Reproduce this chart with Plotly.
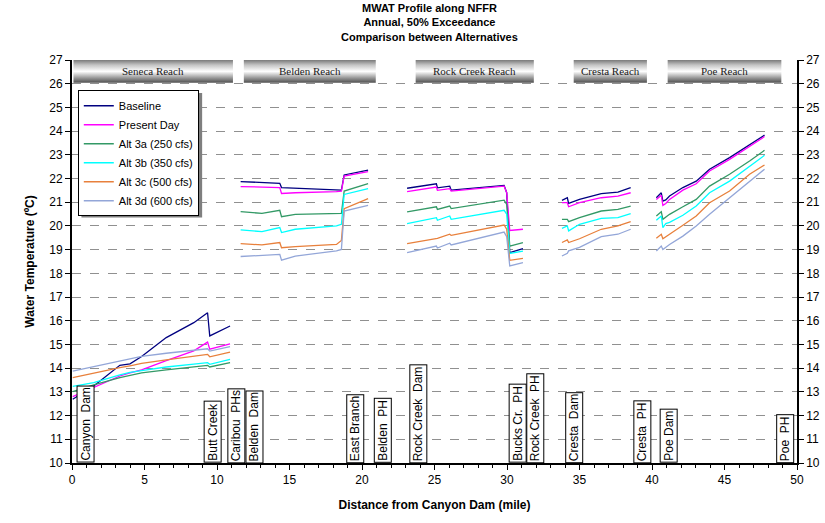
import plotly.graph_objects as go

# ---- River reaches shown as a banner along the top of the chart ----
reach_names = ["Seneca Reach", "Belden Reach", "Rock Creek Reach", "Cresta Reach", "Poe Reach"]
reach_start = [0.1, 11.85, 23.7, 34.6, 41.08]
reach_end = [11.1, 20.95, 31.85, 39.65, 48.92]

# ---- Landmarks along the river (mile from Canyon Dam) ----
landmark_names = ["Canyon\u00a0 Dam", "Butt Creek", "Caribou\u00a0 PHs", "Belden\u00a0 Dam",
                  "East Branch", "Belden\u00a0 PH", "Rock Creek\u00a0 Dam", "Bucks Cr.\u00a0 PH",
                  "Rock Creek\u00a0 PH", "Cresta\u00a0 Dam", "Cresta\u00a0 PH", "Poe Dam", "Poe\u00a0 PH"]
landmark_miles = [0.9, 9.7, 11.3, 12.55, 19.5, 21.4, 23.85, 30.7, 31.95, 34.6, 39.3, 41.15, 49.15]

# ---- River mile sample points in each reach ----
seneca_x = [0.05, 1.5, 3.3, 4.0, 4.8, 6.5, 8.4, 9.35, 9.5, 10.9]
belden_x = [11.63, 13.1, 14.33, 14.45, 15.4, 18.24, 18.58, 18.77, 20.42]
rock_x = [23.11, 25.13, 25.2, 26.05, 26.15, 29.8, 29.98, 30.19, 31.1]
cresta_x = [33.79, 34.16, 34.25, 35.0, 36.5, 37.65, 38.53]
poe_x = [40.3, 40.64, 40.75, 40.95, 41.21, 42.13, 43.05, 43.97, 45.35, 46.73, 47.76]

# ---- MWAT (deg C) for each alternative, one list per reach ----
baseline = [
    [12.69, 13.25, 14.12, 14.18, 14.49, 15.29, 15.92, 16.34, 15.36, 15.78],
    [21.87, 21.84, 21.8, 21.62, 21.6, 21.53, 21.51, 22.15, 22.35],
    [21.59, 21.78, 21.61, 21.68, 21.51, 21.71, 21.4, 18.87, 19.04],
    [21.08, 21.19, 20.95, 21.12, 21.36, 21.43, 21.62],
    [21.19, 21.4, 21.05, 21.1, 21.26, 21.62, 21.89, 22.39, 22.88, 23.44, 23.83],
]
present_day = [
    [12.8, 13.2, 13.67, 13.8, 13.93, 14.32, 14.73, 15.1, 14.8, 15.03],
    [21.66, 21.64, 21.62, 21.37, 21.4, 21.45, 21.47, 22.1, 22.29],
    [21.45, 21.64, 21.5, 21.57, 21.47, 21.68, 21.4, 19.81, 19.86],
    [20.98, 20.98, 20.81, 20.98, 21.19, 21.26, 21.4],
    [21.12, 21.29, 20.87, 20.95, 21.12, 21.51, 21.78, 22.32, 22.81, 23.34, 23.77],
]
alt_3a = [
    [13.01, 13.3, 13.6, 13.7, 13.8, 13.93, 14.05, 14.12, 14.05, 14.23],
    [20.6, 20.53, 20.66, 20.39, 20.49, 20.52, 20.53, 21.47, 21.78],
    [20.59, 20.81, 20.7, 20.84, 20.73, 21.09, 20.91, 19.15, 19.3],
    [20.28, 20.28, 20.18, 20.35, 20.63, 20.7, 20.84],
    [20.42, 20.6, 20.28, 20.38, 20.49, 20.81, 21.12, 21.68, 22.18, 22.74, 23.19],
]
alt_3b = [
    [13.23, 13.39, 13.72, 13.82, 13.9, 14.05, 14.17, 14.23, 14.16, 14.37],
    [19.83, 19.76, 19.93, 19.72, 19.86, 20.0, 20.07, 21.33, 21.57],
    [20.1, 20.35, 20.24, 20.42, 20.28, 20.66, 20.5, 18.84, 18.94],
    [19.9, 20.0, 19.79, 20.07, 20.32, 20.35, 20.52],
    [20.24, 20.42, 19.93, 20.1, 20.15, 20.45, 20.84, 21.4, 21.89, 22.53, 22.98],
]
alt_3c = [
    [13.6, 13.8, 14.02, 14.1, 14.2, 14.35, 14.5, 14.58, 14.48, 14.68],
    [19.25, 19.2, 19.3, 19.08, 19.13, 19.22, 19.39, 20.73, 21.15],
    [19.25, 19.5, 19.48, 19.65, 19.6, 20.04, 19.86, 18.55, 18.63],
    [19.3, 19.41, 19.3, 19.46, 19.86, 20.0, 20.18],
    [19.48, 19.65, 19.46, 19.55, 19.65, 20.03, 20.42, 20.98, 21.47, 22.18, 22.57],
]
alt_3d = [
    [13.88, 14.07, 14.33, 14.42, 14.5, 14.63, 14.76, 14.82, 14.72, 14.91],
    [18.71, 18.76, 18.8, 18.56, 18.73, 18.95, 19.01, 20.63, 20.87],
    [18.87, 19.15, 19.07, 19.27, 19.2, 19.74, 19.55, 18.31, 18.45],
    [18.73, 18.85, 18.95, 19.1, 19.55, 19.65, 19.86],
    [18.94, 19.15, 19.01, 19.1, 19.22, 19.57, 20.0, 20.49, 21.19, 21.89, 22.39],
]

series_names = ["Baseline", "Present Day", "Alt 3a (250 cfs)", "Alt 3b (350 cfs)",
                "Alt 3c (500 cfs)", "Alt 3d (600 cfs)"]
series_values = [baseline, present_day, alt_3a, alt_3b, alt_3c, alt_3d]
series_colors = ["#000080", "#FF00FF", "#339966", "#00FFFF", "#E8803C", "#93A6D8"]

reach_x = [seneca_x, belden_x, rock_x, cresta_x, poe_x]


def join_reaches(parts):
    """Concatenate per-reach lists with None breaks between reaches."""
    out = []
    for i, p in enumerate(parts):
        if i:
            out.append(None)
        out.extend(p)
    return out


FONT = "Liberation Sans, Arial, sans-serif"
fig = go.Figure()

xs = join_reaches(reach_x)
for name, vals, color in zip(series_names, series_values, series_colors):
    fig.add_trace(go.Scatter(
        x=xs, y=join_reaches(vals), mode="lines", name=name,
        line=dict(color=color, width=1.3), connectgaps=False,
    ))

# Reach banner: gradient-filled blocks spanning 26-27 deg C
band_lo, band_hi = 26.04, 27.0
for name, s, e in zip(reach_names, reach_start, reach_end):
    fig.add_trace(go.Scatter(
        x=[s, e, e, s, s], y=[band_lo, band_lo, band_hi, band_hi, band_lo],
        mode="lines", fill="toself", line=dict(width=0, color="rgba(0,0,0,0)"),
        fillgradient=dict(type="vertical", colorscale=[
            [0.0, "#505050"], [0.18, "#8c8c8c"], [0.5, "#ffffff"],
            [0.78, "#c4c4c4"], [1.0, "#7a7a7a"]]),
        showlegend=False, hoverinfo="skip",
    ))
    fig.add_annotation(x=(s + e) / 2, y=(band_lo + band_hi) / 2, text=name,
                       showarrow=False, xref="x", yref="y",
                       font=dict(family="Liberation Serif, Times New Roman, serif",
                                 size=11, color="#1a1a1a"))

# Landmark labels as boxed vertical text standing on the x axis
for name, m in zip(landmark_names, landmark_miles):
    fig.add_annotation(x=m, y=10, xref="x", yref="y", text=name, textangle=-90,
                       showarrow=False, yanchor="bottom", xanchor="center",
                       bgcolor="white", bordercolor="black", borderwidth=1, borderpad=1,
                       font=dict(family=FONT, size=12, color="black"))

# Three-line chart title
fig.add_annotation(
    text="<b>MWAT Profile along NFFR<br>Annual, 50% Exceedance<br>Comparison between Alternatives</b>",
    xref="paper", yref="paper", x=0.493, y=1.15, xanchor="center", yanchor="top",
    showarrow=False, font=dict(family=FONT, size=11, color="black"))

# Invisible trace to bring up the mirrored right-hand temperature axis
fig.add_trace(go.Scatter(x=[None], y=[None], yaxis="y2", showlegend=False, hoverinfo="skip"))

# Drop shadow offset to the lower right of the legend box
fig.add_shape(type="rect", xref="paper", yref="paper", x0=0.013, x1=0.1795, y0=0.609, y1=0.918,
              fillcolor="#7f7f7f", line=dict(width=0), layer="above")

axis_common = dict(range=[10, 27], dtick=1, tick0=10, ticks="outside", ticklen=5,
                   tickcolor="black", showline=True, linecolor="black", automargin=False,
                   tickfont=dict(family=FONT, size=12, color="black"))

fig.update_layout(
    width=825, height=523,
    margin=dict(l=72, r=28, t=60, b=60, autoexpand=False),
    paper_bgcolor="white", plot_bgcolor="white",
    xaxis=dict(range=[0, 50], dtick=5, tick0=0, ticks="outside", ticklen=5, tickcolor="black",
               showline=True, linecolor="black", linewidth=1.5, showgrid=False, zeroline=False,
               automargin=False,
               minor=dict(dtick=1, ticks="outside", ticklen=3, tickcolor="black", showgrid=False),
               tickfont=dict(family=FONT, size=12, color="black"),
               title=dict(text="<b>Distance from Canyon Dam (mile)</b>", standoff=14,
                          font=dict(family=FONT, size=12, color="black"))),
    yaxis=dict(**axis_common, linewidth=2, showgrid=True, gridcolor="#909090", griddash="dash",
               gridwidth=1, zeroline=False,
               title=dict(text="<b>Water Temperature (ºC)</b>", standoff=12,
                          font=dict(family=FONT, size=12, color="black"))),
    yaxis2=dict(**axis_common, linewidth=1.5, overlaying="y", side="right", showgrid=False,
                zeroline=False),
    legend=dict(x=0.008, y=0.925, xanchor="left", yanchor="top", bgcolor="white",
                bordercolor="black", borderwidth=1, itemwidth=30,
                font=dict(family=FONT, size=11, color="black"), tracegroupgap=0),
    showlegend=True,
)

fig.write_html("out.html")
